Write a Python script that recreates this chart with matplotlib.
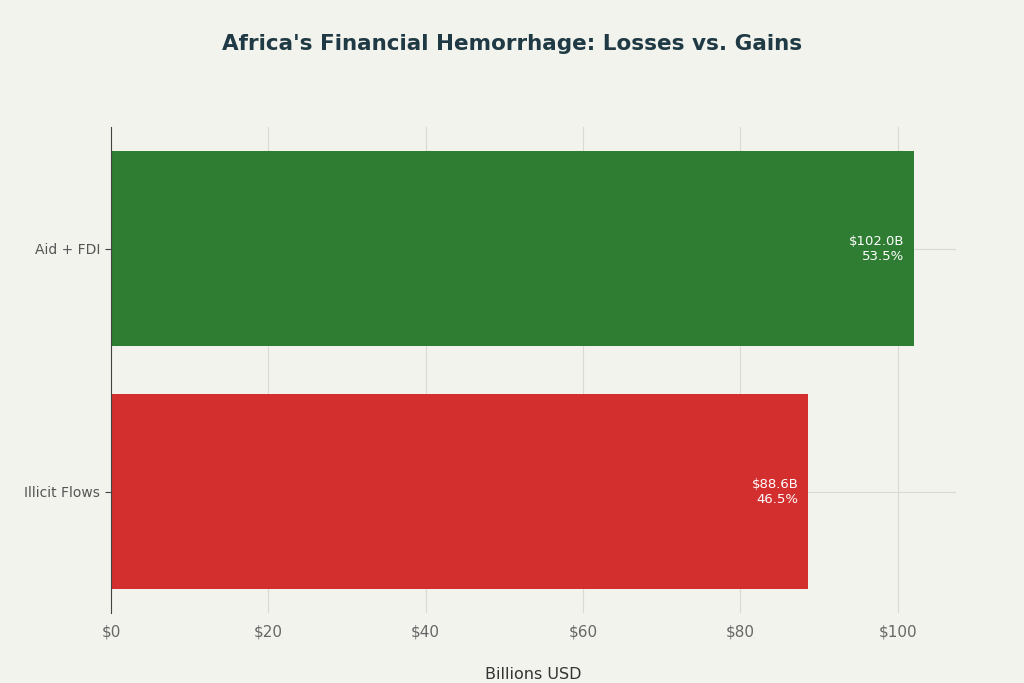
import matplotlib
matplotlib.use("Agg")
import matplotlib.pyplot as plt

categories = ["Illicit Flows", "Aid + FDI"]
values = [88.6, 102.0]
percents = [46.5, 53.5]
colors = ["#D32F2F", "#2E7D32"]
xticks = [0, 20, 40, 60, 80, 100]
xticklabels = ["$0", "$20", "$40", "$60", "$80", "$100"]

bg = "#F3F3EE"
fig = plt.figure(figsize=(10.24, 6.83), dpi=100, facecolor=bg)
ax = fig.add_axes([111/1024, 1-613/683, (956-111)/1024, (613-127)/683], facecolor=bg)
ax.barh(range(len(categories)), values, height=0.8, color=colors, zorder=2)
for i, (v, p) in enumerate(zip(values, percents)):
    ax.text(v - 1.2, i, f"${v:.1f}B\n{p:.1f}%", color="white", ha="right", va="center",
            fontsize=9.5, zorder=3, linespacing=1.2)
ax.set_xlim(0, 107.4)
ax.set_ylim(-0.5, 1.5)
ax.set_yticks(range(len(categories)))
ax.set_yticklabels(categories, fontsize=10, color="#555555")
ax.set_xticks(xticks)
ax.set_xticklabels(xticklabels, fontsize=11, color="#666666")
ax.grid(True, axis="both", color="#DADAD5", linewidth=0.8, zorder=0)
for s in ["top", "right", "bottom"]:
    ax.spines[s].set_visible(False)
ax.spines["left"].set_color("#444444")
ax.tick_params(axis="both", length=0, pad=8)
ax.tick_params(axis="y", length=4, color="#444444", pad=4)
ax.set_xlabel("Billions USD", fontsize=11.5, color="#333333", labelpad=20)
fig.text(0.5, 1-44/683, "Africa's Financial Hemorrhage: Losses vs. Gains", ha="center", va="center",
         fontsize=15.5, fontweight="bold", color="#1F3A44")
fig.savefig("out.png", dpi=100, facecolor=bg)
